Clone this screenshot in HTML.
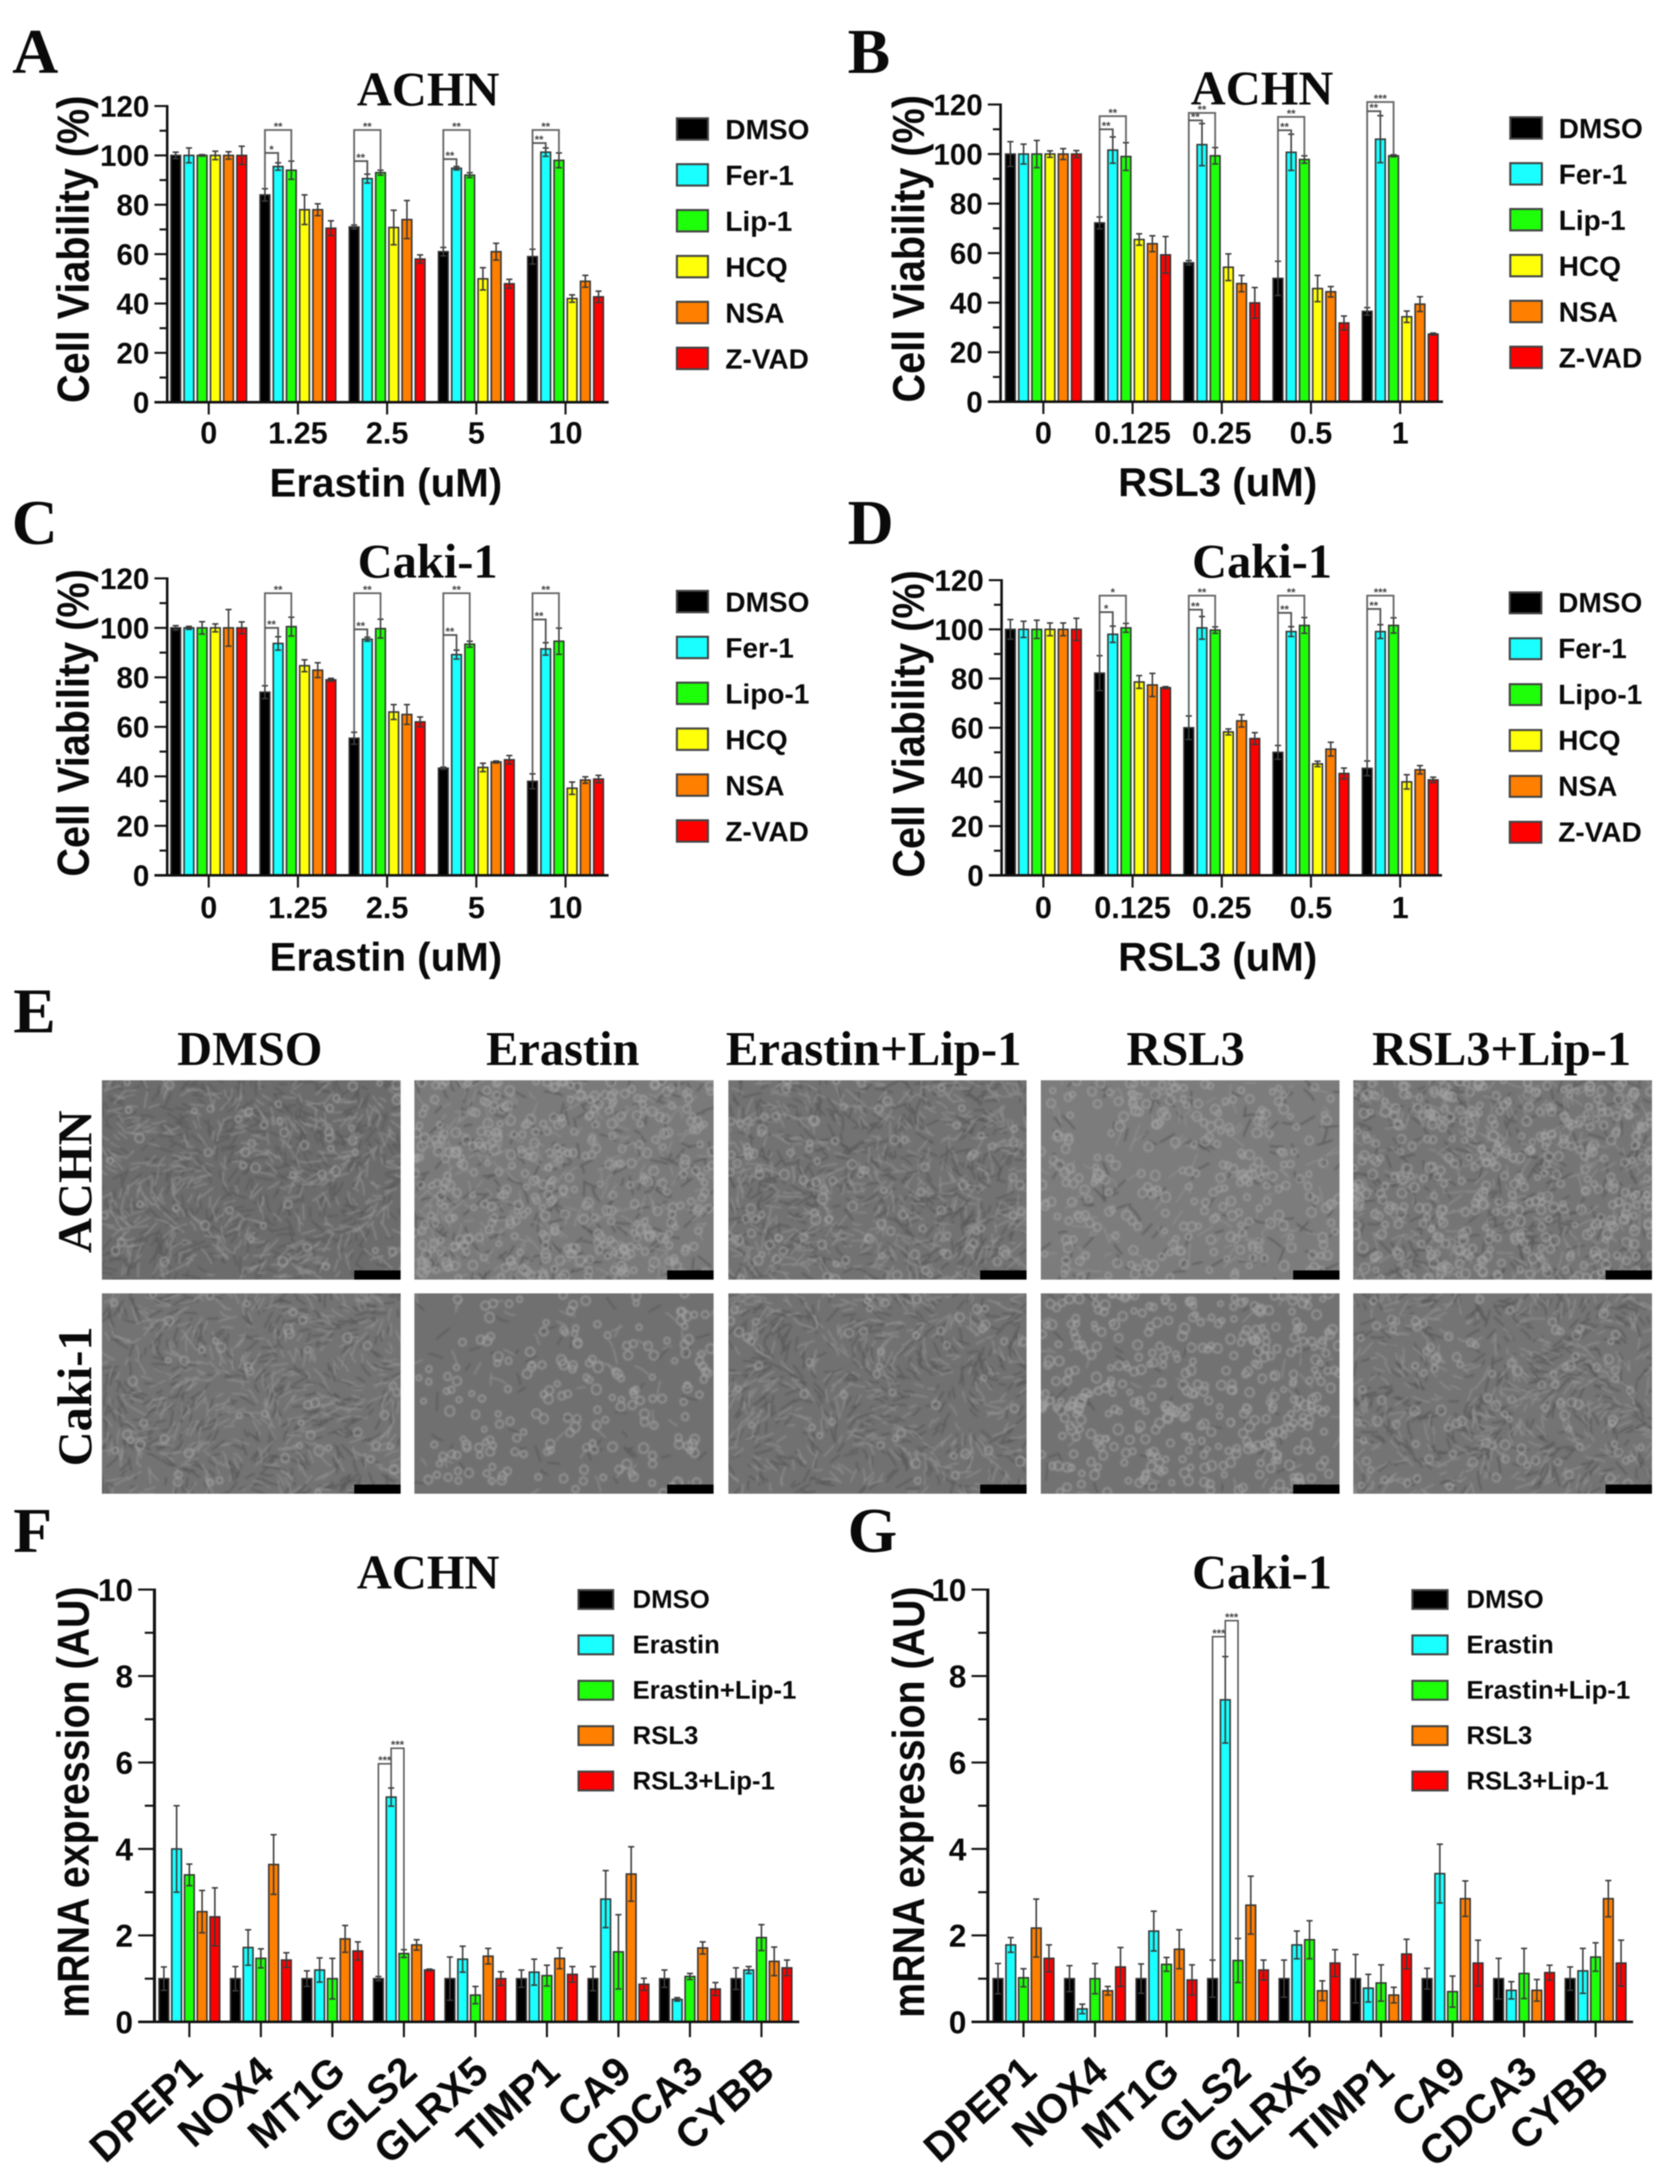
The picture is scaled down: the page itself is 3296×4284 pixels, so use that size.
<!DOCTYPE html>
<html lang="en">
<head>
<meta charset="utf-8">
<title>Cell viability and mRNA expression figure</title>
<style>
html,body{margin:0;padding:0;background:#fff;}
#figure{display:block;width:3296px;height:4284px;filter:blur(1px);}
.sans{font-family:"Liberation Sans",Arial,sans-serif;font-weight:bold;fill:#0a0a0a;}
.serif{font-family:"Liberation Serif","Times New Roman",serif;font-weight:bold;fill:#0a0a0a;}
.letter{font-size:125px;}
.title{font-size:95px;text-anchor:middle;}
.ytitle{font-size:88px;text-anchor:middle;}
.xtitle{font-size:79px;text-anchor:middle;}
.leg{font-size:55px;}
.leg2{font-size:50.5px;}
.sw{stroke:#444;stroke-width:4px;}
</style>
</head>
<body>
<svg id="figure" xmlns="http://www.w3.org/2000/svg" width="3296" height="4284" viewBox="0 0 3296 4284">
<rect x="0" y="0" width="3296" height="4284" fill="#fff"/>

<text class="serif letter" x="24" y="143">A</text>
<text class="serif letter" x="1663" y="143">B</text>
<text class="serif letter" x="23" y="1067">C</text>
<text class="serif letter" x="1663" y="1067">D</text>
<text class="serif letter" x="26" y="2025">E</text>
<text class="serif letter" x="26" y="3044">F</text>
<text class="serif letter" x="1663" y="3044">G</text>

<text class="serif title" x="840" y="207">ACHN</text>
<text class="serif title" x="2476" y="205">ACHN</text>
<text class="serif title" x="839" y="1133">Caki-1</text>
<text class="serif title" x="2476" y="1133">Caki-1</text>
<text class="serif title" x="840" y="3116">ACHN</text>
<text class="serif title" x="2476" y="3116">Caki-1</text>

<text class="sans ytitle" transform="translate(174 489) rotate(-90)" textLength="603" lengthAdjust="spacingAndGlyphs">Cell Viability (%)</text>
<text class="sans ytitle" transform="translate(1813 488) rotate(-90)" textLength="603" lengthAdjust="spacingAndGlyphs">Cell Viability (%)</text>
<text class="sans ytitle" transform="translate(174 1418) rotate(-90)" textLength="603" lengthAdjust="spacingAndGlyphs">Cell Viability (%)</text>
<text class="sans ytitle" transform="translate(1813 1420) rotate(-90)" textLength="603" lengthAdjust="spacingAndGlyphs">Cell Viability (%)</text>
<text class="sans ytitle" transform="translate(174 3535) rotate(-90)" textLength="846" lengthAdjust="spacingAndGlyphs">mRNA expression (AU)</text>
<text class="sans ytitle" transform="translate(1813 3535) rotate(-90)" textLength="846" lengthAdjust="spacingAndGlyphs">mRNA expression (AU)</text>

<text class="sans xtitle" x="757" y="974">Erastin (uM)</text>
<text class="sans xtitle" x="2389" y="973">RSL3 (uM)</text>
<text class="sans xtitle" x="757" y="1904">Erastin (uM)</text>
<text class="sans xtitle" x="2389" y="1904">RSL3 (uM)</text>

<g id="panel-a"></g>
<g id="panel-b"></g>
<g id="panel-c"></g>
<g id="panel-d"></g>
<g id="panel-f"></g>
<g id="panel-g"></g>

<g>
<rect class="sw" x="1328" y="232" width="61" height="42" fill="#000000"/><text class="sans leg" x="1423" y="273">DMSO</text>
<rect class="sw" x="1328" y="322" width="61" height="42" fill="#1affff"/><text class="sans leg" x="1423" y="363">Fer-1</text>
<rect class="sw" x="1328" y="412" width="61" height="42" fill="#1eff0a"/><text class="sans leg" x="1423" y="453">Lip-1</text>
<rect class="sw" x="1328" y="502" width="61" height="42" fill="#ffff0a"/><text class="sans leg" x="1423" y="543">HCQ</text>
<rect class="sw" x="1328" y="592" width="61" height="42" fill="#ff7f00"/><text class="sans leg" x="1423" y="633">NSA</text>
<rect class="sw" x="1328" y="682" width="61" height="42" fill="#ff0000"/><text class="sans leg" x="1423" y="723">Z-VAD</text>
</g>
<g>
<rect class="sw" x="2963" y="230" width="62" height="42" fill="#000000"/><text class="sans leg" x="3058" y="271">DMSO</text>
<rect class="sw" x="2963" y="320" width="62" height="42" fill="#1affff"/><text class="sans leg" x="3058" y="361">Fer-1</text>
<rect class="sw" x="2963" y="410" width="62" height="42" fill="#1eff0a"/><text class="sans leg" x="3058" y="451">Lip-1</text>
<rect class="sw" x="2963" y="500" width="62" height="42" fill="#ffff0a"/><text class="sans leg" x="3058" y="541">HCQ</text>
<rect class="sw" x="2963" y="590" width="62" height="42" fill="#ff7f00"/><text class="sans leg" x="3058" y="631">NSA</text>
<rect class="sw" x="2963" y="680" width="62" height="42" fill="#ff0000"/><text class="sans leg" x="3058" y="721">Z-VAD</text>
</g>
<g>
<rect class="sw" x="1328" y="1159" width="61" height="42" fill="#000000"/><text class="sans leg" x="1423" y="1200">DMSO</text>
<rect class="sw" x="1328" y="1249" width="61" height="42" fill="#1affff"/><text class="sans leg" x="1423" y="1290">Fer-1</text>
<rect class="sw" x="1328" y="1339" width="61" height="42" fill="#1eff0a"/><text class="sans leg" x="1423" y="1380">Lipo-1</text>
<rect class="sw" x="1328" y="1429" width="61" height="42" fill="#ffff0a"/><text class="sans leg" x="1423" y="1470">HCQ</text>
<rect class="sw" x="1328" y="1519" width="61" height="42" fill="#ff7f00"/><text class="sans leg" x="1423" y="1560">NSA</text>
<rect class="sw" x="1328" y="1609" width="61" height="42" fill="#ff0000"/><text class="sans leg" x="1423" y="1650">Z-VAD</text>
</g>
<g>
<rect class="sw" x="2962" y="1162" width="62" height="41" fill="#000000"/><text class="sans leg" x="3057" y="1201">DMSO</text>
<rect class="sw" x="2962" y="1252" width="62" height="41" fill="#1affff"/><text class="sans leg" x="3057" y="1291">Fer-1</text>
<rect class="sw" x="2962" y="1342" width="62" height="41" fill="#1eff0a"/><text class="sans leg" x="3057" y="1381">Lipo-1</text>
<rect class="sw" x="2962" y="1432" width="62" height="41" fill="#ffff0a"/><text class="sans leg" x="3057" y="1471">HCQ</text>
<rect class="sw" x="2962" y="1522" width="62" height="41" fill="#ff7f00"/><text class="sans leg" x="3057" y="1561">NSA</text>
<rect class="sw" x="2962" y="1612" width="62" height="41" fill="#ff0000"/><text class="sans leg" x="3057" y="1651">Z-VAD</text>
</g>
<g>
<rect class="sw" x="1135" y="3119" width="68" height="37" fill="#000000"/><text class="sans leg2" x="1241" y="3154">DMSO</text>
<rect class="sw" x="1135" y="3208" width="68" height="37" fill="#1affff"/><text class="sans leg2" x="1241" y="3243">Erastin</text>
<rect class="sw" x="1135" y="3297" width="68" height="37" fill="#1eff0a"/><text class="sans leg2" x="1241" y="3332">Erastin+Lip-1</text>
<rect class="sw" x="1135" y="3386" width="68" height="37" fill="#ff7f00"/><text class="sans leg2" x="1241" y="3421">RSL3</text>
<rect class="sw" x="1135" y="3475" width="68" height="37" fill="#ff0000"/><text class="sans leg2" x="1241" y="3510">RSL3+Lip-1</text>
</g>
<g>
<rect class="sw" x="2771" y="3119" width="69" height="37" fill="#000000"/><text class="sans leg2" x="2877" y="3154">DMSO</text>
<rect class="sw" x="2771" y="3208" width="69" height="37" fill="#1affff"/><text class="sans leg2" x="2877" y="3243">Erastin</text>
<rect class="sw" x="2771" y="3297" width="69" height="37" fill="#1eff0a"/><text class="sans leg2" x="2877" y="3332">Erastin+Lip-1</text>
<rect class="sw" x="2771" y="3386" width="69" height="37" fill="#ff7f00"/><text class="sans leg2" x="2877" y="3421">RSL3</text>
<rect class="sw" x="2771" y="3475" width="69" height="37" fill="#ff0000"/><text class="sans leg2" x="2877" y="3510">RSL3+Lip-1</text>
</g>

<g>
<text class="serif title" x="490" y="2089">DMSO</text>
<text class="serif title" x="1104" y="2089">Erastin</text>
<text class="serif title" x="1714" y="2089" textLength="580" lengthAdjust="spacingAndGlyphs">Erastin+Lip-1</text>
<text class="serif title" x="2326" y="2089">RSL3</text>
<text class="serif title" x="2946" y="2089">RSL3+Lip-1</text>
<text class="serif title" transform="translate(179 2318) rotate(-90)">ACHN</text>
<text class="serif title" transform="translate(179 2739) rotate(-90)">Caki-1</text>
<g id="micrographs"></g>
</g>
</svg>

<script>
// ---- Panel A (ACHN, Erastin) ----
const doseLabelsErastin = ['0', '1.25', '2.5', '5', '10'];
const doseLabelsRsl3 = ['0', '0.125', '0.25', '0.5', '1'];
const viabilityTicks = [0, 20, 40, 60, 80, 100, 120];
const expressionTicks = [0, 2, 4, 6, 8, 10];

const aDmso = [100, 84, 71, 61, 59];
const aFer = [100, 95.5, 90.6, 94.8, 101.3];
const aLip = [100, 94, 93, 92, 98];
const aHcq = [100, 78, 70.8, 50, 42];
const aNsa = [100, 78, 74, 61, 49];
const aZvad = [100, 70.5, 58, 48, 42.7];
const aDmsoHi = [101.3, 86.5, 71.8, 62.7, 62];
const aFerHi = [103, 97, 92.4, 95.5, 103];
const aLipHi = [100.3, 97.7, 94, 93, 101];
const aHcqHi = [101.7, 84, 77.8, 54.5, 43.5];
const aNsaHi = [101.5, 80.4, 81.7, 64.4, 51.4];
const aZvadHi = [103.7, 73.5, 59.7, 49.8, 45];
const aOuter = [null, 110.3, 110.3, 110.3, 110.3];
const aInner = [null, 101, 97.7, 98.5, 105];
const aOuterStars = ['', '**', '**', '**', '**'];
const aInnerStars = ['', '*', '**', '**', '**'];

// ---- Panel B (ACHN, RSL3) ----
const bDmso = [100, 72.2, 56.1, 49.8, 36.5];
const bFer = [100, 101.6, 103.8, 100.7, 106];
const bLip = [100, 99, 99.3, 97.8, 99.3];
const bHcq = [100, 65.5, 54.3, 45.7, 34.3];
const bNsa = [100, 63.8, 47.7, 44.4, 39.4];
const bZvad = [100, 59.3, 39.9, 31.8, 27.3];
const bDmsoHi = [105, 74.6, 57, 56.7, 38];
const bFerHi = [104, 106.9, 112.3, 108, 115.5];
const bLipHi = [105.5, 104.6, 102.6, 99.3, 99.7];
const bHcqHi = [101.3, 67.8, 59.7, 51, 36.6];
const bNsaHi = [102.2, 67, 51, 46.5, 42.4];
const bZvadHi = [101.4, 66.7, 46.1, 34.6, 27.7];
const bOuter = [null, 115.3, 116.6, 115, 121];
const bInner = [null, 110, 113.6, 109.6, 117.3];
const bOuterStars = ['', '**', '**', '**', '***'];
const bInnerStars = ['', '**', '**', '**', '**'];

// ---- Panel C (Caki-1, Erastin) ----
const cDmso = [100, 74, 55.4, 43.3, 38];
const cFer = [100, 93.7, 95.4, 89.2, 91.5];
const cLip = [100, 100.5, 99.7, 93.4, 94.6];
const cHcq = [100, 84.7, 66, 43.6, 35.2];
const cNsa = [100, 82.9, 65, 45.8, 38.5];
const cZvad = [100, 79, 62, 46.7, 38.9];
const cDmsoHi = [100.9, 76.6, 57.8, 43.7, 41];
const cFerHi = [100.6, 96.4, 96.2, 91, 94];
const cLipHi = [102.5, 104.3, 103.5, 94.6, 99.9];
const cHcqHi = [101.6, 87.1, 69, 45.3, 37.7];
const cNsaHi = [107.4, 85.9, 69, 46.2, 39.8];
const cZvadHi = [102.4, 79.6, 64, 48.4, 40.4];
const cOuter = [null, 114, 114, 114, 114];
const cInner = [null, 100, 99.4, 97.1, 103.4];
const cOuterStars = ['', '**', '**', '**', '**'];
const cInnerStars = ['', '**', '**', '**', '**'];

// ---- Panel D (Caki-1, RSL3) ----
const dDmso = [100, 82.2, 60, 50, 43.5];
const dFer = [100, 98, 100.6, 99.1, 99.1];
const dLip = [100, 100.6, 99.7, 101.6, 101.6];
const dHcq = [100, 78.6, 58.3, 45.3, 38];
const dNsa = [100, 77.4, 62.8, 51.3, 42.9];
const dZvad = [100, 76.3, 55.6, 41.4, 38.8];
const dDmsoHi = [104, 89.3, 64.8, 52.8, 46.5];
const dFerHi = [103.3, 101.3, 105.2, 101.1, 101.9];
const dLipHi = [103.7, 102.4, 101, 104.8, 104.7];
const dHcqHi = [102.6, 81.2, 59.5, 46.4, 40.9];
const dNsaHi = [102.6, 82.1, 65.3, 54.1, 44.6];
const dZvadHi = [104.5, 76.7, 58, 43.6, 39.9];
const dOuter = [null, 113.7, 113.7, 113.7, 113.7];
const dInner = [null, 107, 108, 106.7, 108.3];
const dOuterStars = ['', '*', '**', '**', '***'];
const dInnerStars = ['', '*', '**', '**', '**'];

// ---- Panels F and G (mRNA) ----
const geneLabels = ['DPEP1', 'NOX4', 'MT1G', 'GLS2', 'GLRX5', 'TIMP1', 'CA9', 'CDCA3', 'CYBB'];

const fDmso = [1, 1, 1, 1, 1, 1, 1, 1, 1];
const fErastin = [4.0, 1.72, 1.2, 5.2, 1.45, 1.15, 2.84, 0.52, 1.2];
const fErastinLip = [3.4, 1.47, 1.0, 1.58, 0.62, 1.07, 1.62, 1.05, 1.95];
const fRsl3 = [2.55, 3.64, 1.92, 1.78, 1.52, 1.47, 3.42, 1.71, 1.4];
const fRsl3Lip = [2.43, 1.43, 1.64, 1.2, 1.0, 1.1, 0.87, 0.76, 1.25];
const fDmsoHi = [1.27, 1.28, 1.18, 1.05, 1.5, 1.2, 1.28, 1.2, 1.25];
const fErastinHi = [5.0, 2.13, 1.48, 5.41, 1.75, 1.45, 3.5, 0.56, 1.28];
const fErastinLipHi = [3.65, 1.69, 1.47, 1.67, 0.82, 1.31, 2.48, 1.12, 2.25];
const fRsl3Hi = [3.04, 4.33, 2.23, 1.9, 1.7, 1.71, 4.05, 1.85, 1.73];
const fRsl3LipHi = [3.1, 1.6, 1.85, 1.22, 1.16, 1.28, 1.01, 0.91, 1.43];
const fBracketLevels = [5.97, 6.33];

const gDmso = [1, 1, 1, 1, 1, 1, 1, 1, 1];
const gErastin = [1.78, 0.3, 2.1, 7.45, 1.78, 0.78, 3.43, 0.73, 1.18];
const gErastinLip = [1.02, 1.0, 1.33, 1.42, 1.9, 0.9, 0.7, 1.12, 1.5];
const gRsl3 = [2.17, 0.72, 1.68, 2.7, 0.72, 0.62, 2.85, 0.73, 2.85];
const gRsl3Lip = [1.47, 1.27, 0.97, 1.2, 1.36, 1.57, 1.36, 1.14, 1.36];
const gDmsoHi = [1.35, 1.3, 1.34, 1.43, 1.43, 1.56, 1.24, 1.47, 1.27];
const gErastinHi = [1.95, 0.41, 2.56, 8.45, 2.1, 1.1, 4.11, 0.93, 1.7];
const gErastinLipHi = [1.23, 1.35, 1.49, 1.93, 2.34, 1.32, 1.06, 1.7, 1.83];
const gRsl3Hi = [2.84, 0.82, 2.13, 3.37, 0.95, 0.8, 3.26, 0.98, 3.27];
const gRsl3LipHi = [1.78, 1.72, 1.32, 1.43, 1.67, 1.91, 1.89, 1.31, 1.89];
const gBracketLevels = [8.91, 9.28];

const sixColors = ['#000000', '#1affff', '#1eff0a', '#ffff0a', '#ff7f00', '#ff0000'];
const fiveColors = ['#000000', '#1affff', '#1eff0a', '#ff7f00', '#ff0000'];

const NS = 'http://www.w3.org/2000/svg';
function mk(parent, tag, attrs, text) {
  const el = document.createElementNS(NS, tag);
  for (const k in attrs) el.setAttribute(k, attrs[k]);
  if (text !== undefined) el.textContent = text;
  parent.appendChild(el);
  return el;
}

function drawChart(cfg) {
  const root = document.getElementById(cfg.id);
  const yOf = v => cfg.y0 - v * (cfg.y0 - cfg.yTop) / cfg.yMax;
  const groupX = i => cfg.x0 + i * cfg.groupStep;
  const n = cfg.means.length;
  const barX = (i, s) => groupX(i) + (s - (n - 1) / 2) * cfg.barStep;

  // bars and error bars
  cfg.categories.forEach((cat, i) => {
    cfg.means.forEach((vals, s) => {
      const top = yOf(vals[i]);
      const bar = mk(root, 'rect', {
        x: barX(i, s) - cfg.barW / 2, y: top, width: cfg.barW, height: cfg.y0 - top,
        fill: cfg.colors[s], stroke: '#333', 'stroke-width': 3
      });
      
      

      const hi = yOf(cfg.highs[s][i]);
      const lo = yOf(2 * vals[i] - cfg.highs[s][i]);
      const cx = barX(i, s);
      const err = mk(root, 'path', {
        d: 'M' + cx + ' ' + lo + 'V' + hi + 'M' + (cx - 6) + ' ' + hi + 'H' + (cx + 6) + 'M' + (cx - 6) + ' ' + lo + 'H' + (cx + 6),
        fill: 'none', stroke: '#3a3a3a', 'stroke-width': 3
      });
      
      
    });
  });

  // significance brackets
  if (cfg.outer) {
    cfg.categories.forEach((cat, i) => {
      if (cfg.outer[i] === null) return;
      const xD = barX(i, 0), xF = barX(i, 1), xL = barX(i, 2);
      const yO = yOf(cfg.outer[i]), yI = yOf(cfg.inner[i]);
      const outer = mk(root, 'path', {
        d: 'M' + xD + ' ' + yOf(cfg.highs[0][i]) + 'V' + yO + 'H' + xL + 'V' + yOf(cfg.highs[2][i]),
        fill: 'none', stroke: '#666', 'stroke-width': 3.5
      });
      
      
      const inner = mk(root, 'path', {
        d: 'M' + xD + ' ' + yI + 'H' + xF + 'V' + yOf(cfg.highs[1][i]),
        fill: 'none', stroke: '#555', 'stroke-width': 3.5
      });
      
      
      const s1 = mk(root, 'text', {
        x: (xD + xL) / 2, y: yO + 1, 'text-anchor': 'middle', 'font-size': 22,
        'font-family': '"Liberation Sans",sans-serif', 'font-weight': 'bold', fill: '#444'
      }, cfg.outerStars[i]);
      
      
      const s2 = mk(root, 'text', {
        x: (xD + xF) / 2, y: yI + 1, 'text-anchor': 'middle', 'font-size': 22,
        'font-family': '"Liberation Sans",sans-serif', 'font-weight': 'bold', fill: '#444'
      }, cfg.innerStars[i]);
      
      
    });
  }
  if (cfg.geneBracket) {
    const g = cfg.geneBracket.gene;
    const xA = barX(g, 0), xB = barX(g, 1), xC = barX(g, 2);
    const y1 = yOf(cfg.geneBracket.levels[0]), y2 = yOf(cfg.geneBracket.levels[1]);
    const b1 = mk(root, 'path', {
      d: 'M' + xA + ' ' + yOf(cfg.highs[0][g]) + 'V' + y1 + 'H' + xB + 'V' + yOf(cfg.highs[1][g]),
      fill: 'none', stroke: '#555', 'stroke-width': 3
    });
    
    
    const b2 = mk(root, 'path', {
      d: 'M' + xB + ' ' + yOf(cfg.highs[1][g]) + 'V' + y2 + 'H' + xC + 'V' + yOf(cfg.highs[2][g]),
      fill: 'none', stroke: '#555', 'stroke-width': 3
    });
    
    
    const t1 = mk(root, 'text', {
      x: (xA + xB) / 2, y: y1 + 1, 'text-anchor': 'middle', 'font-size': 22,
      'font-family': '"Liberation Sans",sans-serif', 'font-weight': 'bold', fill: '#444'
    }, '***');
    
    
    const t2 = mk(root, 'text', {
      x: (xB + xC) / 2, y: y2 + 1, 'text-anchor': 'middle', 'font-size': 22,
      'font-family': '"Liberation Sans",sans-serif', 'font-weight': 'bold', fill: '#444'
    }, '***');
    
    
  }

  // y axis
  const yAxis = mk(root, 'line', {
    x1: cfg.axisX, x2: cfg.axisX, y1: yOf(cfg.yMax) - 2, y2: cfg.y0,
    stroke: '#111', 'stroke-width': cfg.axisW
  });
  
  
  cfg.yTicks.forEach((t, i) => {
    const y = yOf(t);
    const tick = mk(root, 'line', {
      x1: cfg.axisX - cfg.majorLen, x2: cfg.axisX, y1: y, y2: y, stroke: '#111', 'stroke-width': 4
    });
    
    
    const label = mk(root, 'text', {
      x: cfg.axisX - cfg.majorLen - 10, y: y + cfg.yFont * 0.36, 'text-anchor': 'end', 'font-size': cfg.yFont,
      'font-family': '"Liberation Sans",sans-serif', 'font-weight': 'bold', fill: '#0a0a0a'
    }, String(t));
    
    
    if (i < cfg.yTicks.length - 1) {
      const mid = yOf((t + cfg.yTicks[i + 1]) / 2);
      const minor = mk(root, 'line', {
        x1: cfg.axisX - cfg.minorLen, x2: cfg.axisX, y1: mid, y2: mid, stroke: '#111', 'stroke-width': 4
      });
      
      
    }
  });

  // x axis
  const xAxis = mk(root, 'line', {
    x1: cfg.axisX - cfg.majorLen, x2: cfg.xEnd, y1: cfg.y0, y2: cfg.y0, stroke: '#111', 'stroke-width': 5
  });
  
  
  cfg.categories.forEach((cat, i) => {
    const x = groupX(i);
    const tick = mk(root, 'line', {
      x1: x, x2: x, y1: cfg.y0, y2: cfg.y0 + cfg.tickDown, stroke: '#111', 'stroke-width': 4
    });
    
    
    let label;
    if (cfg.rotateLabels) {
      const ax = x + 30, ay = cfg.y0 + 104;
      label = mk(root, 'text', {
        x: ax, y: ay, 'text-anchor': 'end', 'font-size': cfg.xFont,
        transform: 'rotate(-42 ' + ax + ' ' + ay + ')',
        'font-family': '"Liberation Sans",sans-serif', 'font-weight': 'bold', fill: '#0a0a0a'
      }, cat);
    } else {
      label = mk(root, 'text', {
        x: x, y: cfg.labelY, 'text-anchor': 'middle', 'font-size': cfg.xFont,
        'font-family': '"Liberation Sans",sans-serif', 'font-weight': 'bold', fill: '#0a0a0a'
      }, cat);
    }
    
    
  });
}

const viabilityBase = {
  yMax: 120, yTicks: viabilityTicks, groupStep: 175, barStep: 25.9, barW: 19, axisW: 5,
  majorLen: 25, minorLen: 15, yFont: 58, xFont: 60, tickDown: 24, colors: sixColors
};
const expressionBase = {
  yMax: 10, yTicks: expressionTicks, groupStep: 140.3, barStep: 25, barW: 19, axisW: 6,
  majorLen: 32, minorLen: 19, yFont: 62, xFont: 80, tickDown: 30, colors: fiveColors,
  categories: geneLabels, rotateLabels: true
};

drawChart(Object.assign({}, viabilityBase, {
  id: 'panel-a', x0: 409.5, axisX: 328, xEnd: 1194, yTop: 208, y0: 789, labelY: 870,
  categories: doseLabelsErastin,
  means: [aDmso, aFer, aLip, aHcq, aNsa, aZvad],
  highs: [aDmsoHi, aFerHi, aLipHi, aHcqHi, aNsaHi, aZvadHi],
  outer: aOuter, inner: aInner, outerStars: aOuterStars, innerStars: aInnerStars
}));
drawChart(Object.assign({}, viabilityBase, {
  id: 'panel-b', x0: 2047, axisX: 1963, xEnd: 2831, yTop: 205, y0: 788, labelY: 870,
  categories: doseLabelsRsl3,
  means: [bDmso, bFer, bLip, bHcq, bNsa, bZvad],
  highs: [bDmsoHi, bFerHi, bLipHi, bHcqHi, bNsaHi, bZvadHi],
  outer: bOuter, inner: bInner, outerStars: bOuterStars, innerStars: bInnerStars
}));
drawChart(Object.assign({}, viabilityBase, {
  id: 'panel-c', x0: 409.5, axisX: 328, xEnd: 1194, yTop: 1134.5, y0: 1717, labelY: 1801,
  categories: doseLabelsErastin,
  means: [cDmso, cFer, cLip, cHcq, cNsa, cZvad],
  highs: [cDmsoHi, cFerHi, cLipHi, cHcqHi, cNsaHi, cZvadHi],
  outer: cOuter, inner: cInner, outerStars: cOuterStars, innerStars: cInnerStars
}));
drawChart(Object.assign({}, viabilityBase, {
  id: 'panel-d', x0: 2047, axisX: 1965, xEnd: 2829, yTop: 1138, y0: 1717, labelY: 1801,
  categories: doseLabelsRsl3,
  means: [dDmso, dFer, dLip, dHcq, dNsa, dZvad],
  highs: [dDmsoHi, dFerHi, dLipHi, dHcqHi, dNsaHi, dZvadHi],
  outer: dOuter, inner: dInner, outerStars: dOuterStars, innerStars: dInnerStars
}));
drawChart(Object.assign({}, expressionBase, {
  id: 'panel-f', x0: 371.5, axisX: 303, xEnd: 1568, yTop: 3118, y0: 3966,
  means: [fDmso, fErastin, fErastinLip, fRsl3, fRsl3Lip],
  highs: [fDmsoHi, fErastinHi, fErastinLipHi, fRsl3Hi, fRsl3LipHi],
  geneBracket: { gene: 3, levels: fBracketLevels }
}));
drawChart(Object.assign({}, expressionBase, {
  id: 'panel-g', x0: 2008, axisX: 1938, xEnd: 3204, yTop: 3118, y0: 3966,
  means: [gDmso, gErastin, gErastinLip, gRsl3, gRsl3Lip],
  highs: [gDmsoHi, gErastinHi, gErastinLipHi, gRsl3Hi, gRsl3LipHi],
  geneBracket: { gene: 3, levels: gBracketLevels }
}));

// ---- Panel E: procedurally drawn microscope textures ----
function seeded(s) {
  return function () {
    s |= 0; s = s + 0x6D2B79F5 | 0;
    let t = Math.imul(s ^ s >>> 15, 1 | s);
    t = t + Math.imul(t ^ t >>> 7, 61 | t) ^ t;
    return ((t ^ t >>> 14) >>> 0) / 4294967296;
  };
}
const grid = document.getElementById('micrographs');
const defs = mk(grid, 'defs', {});
const soft = mk(defs, 'filter', { id: 'soft', x: '-5%', y: '-5%', width: '110%', height: '110%' });
mk(soft, 'feGaussianBlur', { stdDeviation: 1.8 });

const columnsX = [[200, 786], [813, 1400], [1429, 2014], [2042, 2628], [2655, 3241]];
const rowsY = [[2119, 2510], [2537, 2930]];
const panelStyle = [
  [{ bg: '#6c6c6c', long: 1000, round: 50, spread: 1.6, name: 'achn-dmso' }, { bg: '#7a7a7a', long: 500, round: 380, spread: 2.6, name: 'achn-erastin' }, { bg: '#727272', long: 1000, round: 110, spread: 2.0, name: 'achn-erastin-lip-1' }, { bg: '#7c7c7c', long: 220, round: 260, spread: 2.6, name: 'achn-rsl3' }, { bg: '#757575', long: 650, round: 420, spread: 2.4, name: 'achn-rsl3-lip-1' }],
  [{ bg: '#737373', long: 900, round: 50, spread: 1.2, name: 'caki-1-dmso' }, { bg: '#707070', long: 90, round: 190, spread: 2.4, name: 'caki-1-erastin' }, { bg: '#717171', long: 800, round: 50, spread: 1.2, name: 'caki-1-erastin-lip-1' }, { bg: '#727272', long: 80, round: 400, spread: 2.4, name: 'caki-1-rsl3' }, { bg: '#747474', long: 800, round: 100, spread: 1.4, name: 'caki-1-rsl3-lip-1' }]
];

rowsY.forEach((ry, r) => {
  columnsX.forEach((cx, c) => {
    const st = panelStyle[r][c];
    const rnd = seeded(1009 * (r + 1) + 37 * (c + 3));
    const x = cx[0], y = ry[0], w = cx[1] - cx[0], h = ry[1] - ry[0];
    const clipId = 'clip-' + r + '-' + c;
    const cp = mk(defs, 'clipPath', { id: clipId });
    mk(cp, 'rect', { x: x, y: y, width: w, height: h });
    const g = mk(grid, 'g', { 'clip-path': 'url(#' + clipId + ')' });
    
    
    mk(g, 'rect', { x: x, y: y, width: w, height: h, fill: st.bg });

    const p1 = rnd() * 6, p2 = rnd() * 6;
    let light = '', dark = '', bright = '';
    for (let i = 0; i < st.long; i++) {
      const px = x + rnd() * w, py = y + rnd() * h;
      const ang = 2.2 * Math.sin((px - x) / 90 + p1) + 2.2 * Math.cos((py - y) / 80 + p2) + (rnd() - 0.5) * st.spread;
      const len = 7 + rnd() * 12;
      const dx = Math.cos(ang) * len, dy = Math.sin(ang) * len;
      const bend = (rnd() - 0.5) * 8;
      const seg = 'M' + (px - dx).toFixed(1) + ' ' + (py - dy).toFixed(1) + 'Q' + (px + bend).toFixed(1) + ' ' + (py - bend).toFixed(1) + ' ' + (px + dx).toFixed(1) + ' ' + (py + dy).toFixed(1);
      if (i % 2) light += seg; else dark += seg;
    }
    for (let i = 0; i < st.round; i++) {
      const px = x + rnd() * w, py = y + rnd() * h, ra = 5 + rnd() * 4;
      bright += 'M' + (px - ra).toFixed(1) + ' ' + py.toFixed(1) + 'a' + ra.toFixed(1) + ' ' + ra.toFixed(1) + ' 0 1 0 ' + (2 * ra).toFixed(1) + ' 0a' + ra.toFixed(1) + ' ' + ra.toFixed(1) + ' 0 1 0 ' + (-2 * ra).toFixed(1) + ' 0';
    }
    mk(g, 'path', { d: dark, fill: 'none', stroke: '#5a5a5a', 'stroke-width': 3, filter: 'url(#soft)' });
    mk(g, 'path', { d: light, fill: 'none', stroke: '#8e8e8e', 'stroke-width': 2.6, filter: 'url(#soft)' });
    mk(g, 'path', { d: bright, fill: 'none', stroke: '#a0a0a0', 'stroke-width': 2.6, filter: 'url(#soft)' });

    const bar = mk(g, 'rect', { x: cx[1] - 91, y: ry[1] - 18, width: 91, height: 18, fill: '#000' });
    
    
  });
});
</script>
</body>
</html>
